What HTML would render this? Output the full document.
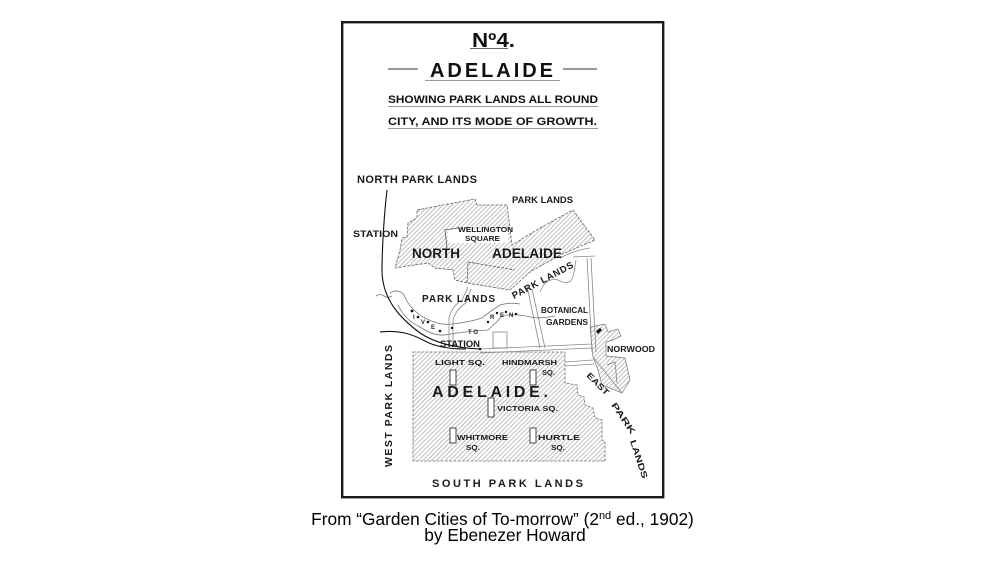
<!DOCTYPE html>
<html><head><meta charset="utf-8"><style>
html,body{margin:0;padding:0;background:#fff;}
svg{display:block;}
text{font-family:"Liberation Sans",Arial,sans-serif;}
</style></head><body>
<svg width="1004" height="565" viewBox="0 0 1004 565" xmlns="http://www.w3.org/2000/svg">
<defs>
<pattern id="h" width="3.2" height="3.2" patternUnits="userSpaceOnUse" patternTransform="rotate(45)">
<line x1="0.5" y1="0" x2="0.5" y2="3.2" stroke="#a6a6a6" stroke-width="0.7"/>
</pattern>
</defs>
<rect width="1004" height="565" fill="#fff"/>
<rect x="342.2" y="22.2" width="321" height="475" fill="#fff" stroke="#1a1a1a" stroke-width="2.4"/>

<!-- Title block -->
<g fill="#111" font-weight="bold">
<text x="472" y="47" font-size="20" textLength="43" lengthAdjust="spacingAndGlyphs">Nº4.</text>
<text x="430" y="77" font-size="20" textLength="123" lengthAdjust="spacing">ADELAIDE</text>
<text x="388" y="103" font-size="11" textLength="210" lengthAdjust="spacingAndGlyphs">SHOWING PARK LANDS ALL ROUND</text>
<text x="388" y="125" font-size="11" textLength="209" lengthAdjust="spacingAndGlyphs">CITY, AND ITS MODE OF GROWTH.</text>
</g>
<g stroke="#333" fill="none">
<line x1="470" y1="48.5" x2="508" y2="48.5" stroke-width="0.8"/>
<line x1="388" y1="69" x2="418" y2="69" stroke-width="1"/>
<line x1="563" y1="69" x2="597" y2="69" stroke-width="1"/>
<line x1="425" y1="80.5" x2="560" y2="80.5" stroke-width="0.8" stroke="#777"/>
<line x1="388" y1="106.5" x2="598" y2="106.5" stroke-width="0.8" stroke="#777"/>
<line x1="388" y1="128.5" x2="598" y2="128.5" stroke-width="0.8" stroke="#777"/>
</g>

<!-- North Adelaide -->
<polygon points="417,210 448,204 475,199 477,205 507,205 512,245 540,228 573,210 595,240 560,255 530,272 510,290 467,283 455,280 453,270 435,268 428,263 395,268 400,250 402,238 407,237 408,223 417,218"
 fill="url(#h)" stroke="#666" stroke-width="0.8" stroke-dasharray="3 1.2"/>
<rect x="448" y="229" width="60" height="14" fill="#fff"/>
<polyline points="447,248 445,230 458,228" fill="none" stroke="#555" stroke-width="0.8"/>
<polyline points="467,283 468,262 515,270" fill="none" stroke="#555" stroke-width="0.8" stroke-dasharray="3 1.2"/>

<!-- Adelaide city -->
<polygon points="413,352 565,352 565,383 577,385 578,395 584,397 585,405 593,408 595,418 602,420 602,440 605,442 605,461 413,461"
 fill="url(#h)" stroke="#777" stroke-width="0.8" stroke-dasharray="3 1.2"/>

<!-- Norwood region -->
<polygon points="590,327 605,324 608,332 618,329 621,336 613,340 606,342 606,356 625,358 630,380 622,393 602,385 598,370 593,357"
 fill="url(#h)" stroke="#777" stroke-width="0.7"/>
<polyline points="607,365 615,362 617,383" fill="none" stroke="#777" stroke-width="0.7"/>
<path d="M596,331 l4,-3 l2,2 l-4,4 z" fill="#111"/>

<!-- roads -->
<g fill="none" stroke="#888" stroke-width="0.8">
<path d="M449,347 L449,318 Q452,306 462,300 L468,287"/>
<path d="M453,347 L453,320 Q456,309 466,303 L471,289"/>
<path d="M527,286 L540,348"/>
<path d="M532,289 L545,348"/>
<path d="M540,292 Q546,277 558,280 Q572,288 574,272 L576,260"/>
<path d="M587,258 L592,352"/>
<path d="M591,258 L596,352"/>
<path d="M480,349 L592,344"/>
<path d="M480,353 L592,348"/>
<path d="M565,362 L593,360"/>
<path d="M565,366 L594,364"/>
<rect x="493" y="332" width="14" height="16"/>
<path d="M573,257 L595,256"/>
<path d="M560,258 Q575,250 590,248"/>
<path d="M593,357 L622,393"/>
</g>

<!-- river banks -->
<g fill="none" stroke="#777" stroke-width="0.8">
<path d="M390,293 Q398,288 404,295 Q410,310 425,318 Q440,326 452,324 Q470,322 482,318 Q492,310 500,305 Q510,302 520,304"/>
<path d="M398,305 Q405,320 420,327 Q436,338 450,334 Q470,331 488,330 Q497,322 502,316 Q515,313 530,317 Q540,319 555,316"/>
<path d="M376,296 q4,-3 8,0 q4,3 8,0"/>
</g>
<g fill="#111">
<circle cx="412" cy="311" r="1.4"/><circle cx="418" cy="317" r="1.3"/><circle cx="428" cy="322" r="1.3"/>
<circle cx="440" cy="331" r="1.3"/><circle cx="452" cy="328" r="1.2"/><circle cx="488" cy="322" r="1.2"/>
<circle cx="497" cy="313" r="1.2"/><circle cx="506" cy="312" r="1.2"/><circle cx="516" cy="314" r="1.2"/>
<circle cx="480" cy="349" r="1.3"/>
</g>
<g fill="#222" font-size="6" font-weight="bold">
<text x="413" y="319">I</text><text x="421" y="324">V</text><text x="431" y="329">E</text>
<text x="468" y="334">T O</text><text x="490" y="319">R</text><text x="500" y="317">E</text><text x="509" y="317">N</text>
</g>

<!-- railway -->
<g fill="none" stroke="#111" stroke-width="1.1">
<path d="M387,190 C384,215 382,250 382,272 C383,300 400,318 420,333 C435,343 455,348 480,349"/>
<path d="M380,332 C398,330 410,333 425,341 C434,346 448,349 466,349"/>
</g>

<!-- map labels -->
<g fill="#1a1a1a" font-weight="bold">
<text x="357" y="183" font-size="11" textLength="120" lengthAdjust="spacing">NORTH PARK LANDS</text>
<text x="512" y="203" font-size="9" textLength="61" lengthAdjust="spacingAndGlyphs">PARK LANDS</text>
<text x="353" y="237" font-size="9.5" textLength="45" lengthAdjust="spacingAndGlyphs">STATION</text>
<text x="458" y="232" font-size="7" textLength="55" lengthAdjust="spacingAndGlyphs">WELLINGTON</text>
<text x="465" y="241" font-size="7" textLength="35" lengthAdjust="spacingAndGlyphs">SQUARE</text>
<text x="412" y="258" font-size="13.5" textLength="48" lengthAdjust="spacingAndGlyphs">NORTH</text>
<text x="492" y="258" font-size="13.5" textLength="70" lengthAdjust="spacingAndGlyphs">ADELAIDE</text>
<text x="422" y="302" font-size="10" textLength="73" lengthAdjust="spacing">PARK LANDS</text>
<text transform="translate(514,299) rotate(-28)" font-size="9.5" textLength="68" lengthAdjust="spacing">PARK LANDS</text>
<text x="541" y="313" font-size="8" textLength="47" lengthAdjust="spacingAndGlyphs">BOTANICAL</text>
<text x="546" y="325" font-size="8" textLength="42" lengthAdjust="spacingAndGlyphs">GARDENS</text>
<text x="607" y="352" font-size="8" textLength="48" lengthAdjust="spacingAndGlyphs">NORWOOD</text>
<text x="440" y="347" font-size="9.5" textLength="40" lengthAdjust="spacingAndGlyphs">STATION</text>
<text x="435" y="365" font-size="7.5" textLength="50" lengthAdjust="spacingAndGlyphs">LIGHT SQ.</text>
<text x="502" y="365" font-size="7.5" textLength="55" lengthAdjust="spacingAndGlyphs">HINDMARSH</text>
<text x="542" y="375" font-size="7.5" textLength="13" lengthAdjust="spacingAndGlyphs">SQ.</text>
<text x="432" y="397" font-size="16" textLength="116" lengthAdjust="spacing">ADELAIDE.</text>
<text x="497" y="411" font-size="7.5" textLength="61" lengthAdjust="spacingAndGlyphs">VICTORIA SQ.</text>
<text x="457" y="440" font-size="7.5" textLength="51" lengthAdjust="spacingAndGlyphs">WHITMORE</text>
<text x="466" y="450" font-size="7.5" textLength="14" lengthAdjust="spacingAndGlyphs">SQ.</text>
<text x="538" y="440" font-size="7.5" textLength="42" lengthAdjust="spacingAndGlyphs">HURTLE</text>
<text x="551" y="450" font-size="7.5" textLength="14" lengthAdjust="spacingAndGlyphs">SQ.</text>
<text x="432" y="487" font-size="11" textLength="151" lengthAdjust="spacing">SOUTH PARK LANDS</text>
<text transform="translate(392,467) rotate(-90)" font-size="10.5" textLength="122" lengthAdjust="spacing">WEST PARK LANDS</text>
<text transform="translate(586,376) rotate(45)" font-size="8.5" textLength="28" lengthAdjust="spacingAndGlyphs">EAST</text>
<text transform="translate(611,405) rotate(56)" font-size="8.5" textLength="36" lengthAdjust="spacingAndGlyphs">PARK</text>
<text transform="translate(630,441) rotate(72)" font-size="8.5" textLength="40" lengthAdjust="spacingAndGlyphs">LANDS</text>
</g>

<!-- square markers -->
<g fill="#fff" stroke="#333" stroke-width="0.9">
<rect x="450" y="370" width="6" height="15"/>
<rect x="530" y="370" width="6" height="15"/>
<rect x="488" y="398" width="6" height="19"/>
<rect x="450" y="428" width="6" height="15"/>
<rect x="530" y="428" width="6" height="15"/>
</g>

<!-- caption -->
<text x="502.5" y="525" text-anchor="middle" font-size="17.3" fill="#000">From “Garden Cities of To-morrow” (2<tspan font-size="11" dy="-6">nd</tspan><tspan dy="6"> ed., 1902)</tspan></text>
<text x="505" y="541" text-anchor="middle" font-size="17.3" fill="#000">by Ebenezer Howard</text>
</svg>
</body></html>
